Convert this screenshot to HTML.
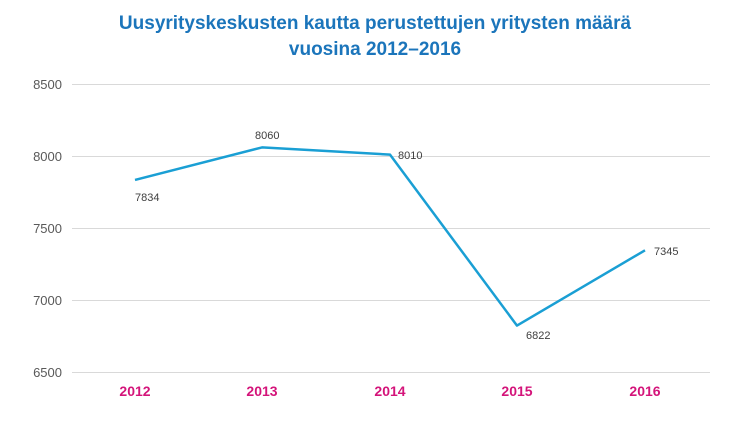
<!DOCTYPE html>
<html><head><meta charset="utf-8"><style>
html,body{margin:0;padding:0;background:#fff;}
svg{display:block;font-family:"Liberation Sans",Arial,sans-serif;}
</style></head><body>
<svg width="750" height="427" viewBox="0 0 750 427" xmlns="http://www.w3.org/2000/svg">
<rect width="750" height="427" fill="#fff"/>
<text x="375" y="29" text-anchor="middle" font-size="19" font-weight="bold" fill="#1b75bb">Uusyrityskeskusten kautta perustettujen yritysten määrä</text>
<text x="375" y="55" text-anchor="middle" font-size="19" font-weight="bold" fill="#1b75bb">vuosina 2012–2016</text>
<g stroke="#d9d9d9" stroke-width="1">
<line x1="72" y1="84.5" x2="710" y2="84.5"/>
<line x1="72" y1="156.5" x2="710" y2="156.5"/>
<line x1="72" y1="228.5" x2="710" y2="228.5"/>
<line x1="72" y1="300.5" x2="710" y2="300.5"/>
<line x1="72" y1="372.5" x2="710" y2="372.5"/>
</g>
<g font-size="13" fill="#595959" text-anchor="end">
<text x="62" y="89">8500</text>
<text x="62" y="161">8000</text>
<text x="62" y="233">7500</text>
<text x="62" y="305">7000</text>
<text x="62" y="377">6500</text>
</g>
<g font-size="14" font-weight="bold" fill="#d4147a" text-anchor="middle">
<text x="135" y="396">2012</text>
<text x="262" y="396">2013</text>
<text x="390" y="396">2014</text>
<text x="517" y="396">2015</text>
<text x="645" y="396">2016</text>
</g>
<polyline points="135,179.9 262,147.4 390,154.6 517,325.6 645,250.3" fill="none" stroke="#1a9fd4" stroke-width="2.5" stroke-linejoin="round"/>
<g font-size="11" fill="#404040">
<text x="135" y="201">7834</text>
<text x="255" y="139">8060</text>
<text x="398" y="159">8010</text>
<text x="526" y="339">6822</text>
<text x="654" y="255">7345</text>
</g>
</svg>
</body></html>
